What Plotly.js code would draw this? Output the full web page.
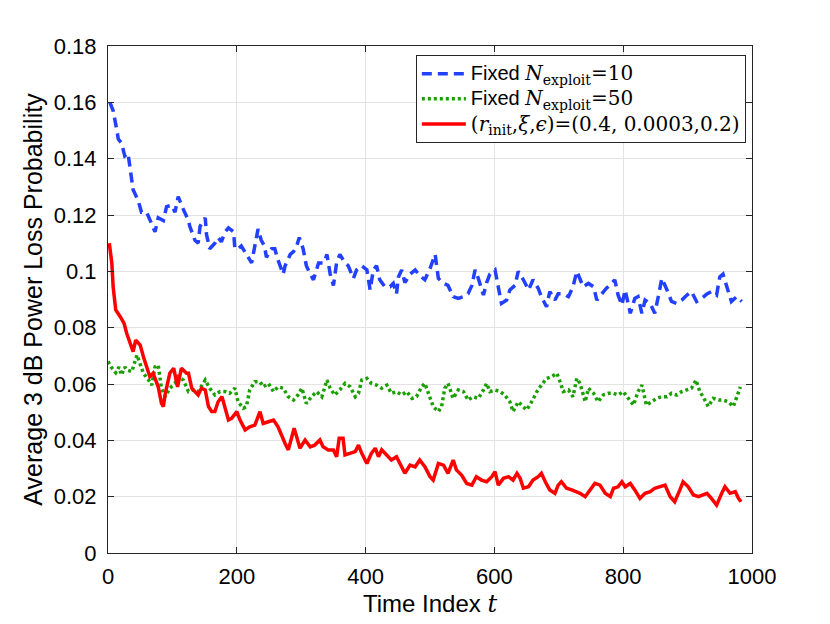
<!DOCTYPE html>
<html>
<head>
<meta charset="utf-8">
<script src="https://cdn.plot.ly/plotly-3.0.1.min.js"></script>
<style>
  body { margin: 0; background: #fff; }
  #plot-container { width: 830px; height: 624px; }
</style>
</head>
<body>
<div id="plot-container"></div>
<script>
// values
const tFixed10 = [3, 8, 13, 16, 21, 26, 31, 35, 39, 47, 52, 60, 65, 73, 78, 86, 91, 99, 104, 109, 117, 125, 127, 135, 140, 143, 151, 153, 158, 166, 171, 176, 182, 187, 195, 197, 202, 207, 215, 223, 228, 233, 238, 243, 246, 254, 259, 264, 272, 275, 283, 288, 293, 297, 303, 308, 314, 319, 327, 335, 340, 345, 350, 355, 360, 368, 373, 381, 386, 394, 402, 407, 412, 417, 422, 430, 438, 443, 448, 451, 456, 461, 469, 477, 484, 492, 500, 508, 513, 521, 528, 536, 544, 552, 559, 565, 570, 575, 583, 588, 593, 601, 606, 611, 619, 624, 632, 637, 645, 653, 660, 668, 673, 681, 686, 694, 699, 707, 715, 722, 728, 733, 738, 746, 754, 759, 767, 774, 782, 787, 792, 798, 803, 811, 818, 823, 829, 834, 842, 849, 855, 860, 868, 875, 883, 891, 899, 906, 914, 922, 930, 937, 945, 950, 955, 961, 968, 976, 984];
const pFixed10 = [0.160, 0.157, 0.151, 0.147, 0.1455, 0.141, 0.142, 0.135, 0.129, 0.125, 0.121, 0.121, 0.118, 0.114, 0.119, 0.118, 0.123, 0.1235, 0.121, 0.1265, 0.122, 0.118, 0.116, 0.111, 0.110, 0.116, 0.119, 0.113, 0.108, 0.110, 0.112, 0.1105, 0.114, 0.1154, 0.114, 0.108, 0.108, 0.109, 0.106, 0.103, 0.109, 0.115, 0.111, 0.109, 0.105, 0.108, 0.108, 0.104, 0.099, 0.102, 0.106, 0.107, 0.109, 0.112, 0.108, 0.102, 0.099, 0.097, 0.103, 0.103, 0.106, 0.099, 0.095, 0.103, 0.106, 0.103, 0.102, 0.0975, 0.1005, 0.102, 0.1005, 0.0934, 0.1005, 0.102, 0.097, 0.0945, 0.0945, 0.0957, 0.092, 0.098, 0.1005, 0.096, 0.099, 0.1005, 0.0985, 0.097, 0.101, 0.106, 0.0975, 0.0957, 0.095, 0.091, 0.0904, 0.091, 0.092, 0.095, 0.1005, 0.0975, 0.0916, 0.096, 0.099, 0.1005, 0.0945, 0.0886, 0.0898, 0.0934, 0.095, 0.100, 0.097, 0.0934, 0.097, 0.094, 0.091, 0.0874, 0.0928, 0.0898, 0.092, 0.092, 0.091, 0.0945, 0.100, 0.0975, 0.0945, 0.0957, 0.0945, 0.0898, 0.092, 0.094, 0.0957, 0.097, 0.0916, 0.088, 0.0934, 0.0851, 0.0904, 0.091, 0.0851, 0.0898, 0.0886, 0.0851, 0.0916, 0.0975, 0.0934, 0.0893, 0.0886, 0.0898, 0.0916, 0.0928, 0.0893, 0.0904, 0.092, 0.0928, 0.0916, 0.098, 0.099, 0.0945, 0.0893, 0.091, 0.0893];

const tFixed50 = [0, 5, 12, 17, 21, 26, 29, 37, 45, 50, 55, 63, 68, 73, 78, 83, 89, 96, 104, 109, 117, 125, 132, 140, 151, 158, 166, 174, 182, 189, 197, 202, 210, 215, 220, 228, 236, 241, 249, 257, 264, 272, 280, 288, 295, 301, 308, 316, 324, 332, 340, 345, 352, 360, 368, 376, 384, 389, 394, 402, 409, 417, 425, 433, 440, 448, 456, 464, 472, 479, 487, 492, 497, 505, 513, 518, 523, 528, 536, 544, 552, 559, 567, 575, 583, 588, 593, 601, 609, 616, 624, 629, 637, 645, 650, 658, 666, 673, 681, 689, 697, 702, 707, 715, 722, 728, 733, 741, 746, 754, 761, 769, 777, 785, 792, 800, 808, 816, 823, 829, 836, 844, 852, 860, 868, 875, 883, 891, 899, 906, 913, 919, 924, 932, 940, 948, 955, 963, 971, 976, 982];
const pFixed50 = [0.068, 0.066, 0.064, 0.066, 0.0632, 0.066, 0.065, 0.0644, 0.0703, 0.0673, 0.0638, 0.0614, 0.0596, 0.0661, 0.0667, 0.0585, 0.0555, 0.0585, 0.0602, 0.0626, 0.0614, 0.0573, 0.0579, 0.0573, 0.0614, 0.0585, 0.0561, 0.0573, 0.0573, 0.0567, 0.0585, 0.0537, 0.0514, 0.052, 0.0579, 0.0608, 0.0608, 0.059, 0.0602, 0.0573, 0.059, 0.0585, 0.0555, 0.0543, 0.0561, 0.0585, 0.0531, 0.0555, 0.0573, 0.0555, 0.0614, 0.0585, 0.0561, 0.0579, 0.0602, 0.059, 0.0555, 0.0567, 0.0614, 0.062, 0.0602, 0.0596, 0.0585, 0.0596, 0.0567, 0.0573, 0.0561, 0.0573, 0.0549, 0.0555, 0.059, 0.0602, 0.0573, 0.052, 0.0502, 0.052, 0.0585, 0.0602, 0.0549, 0.0579, 0.0573, 0.0543, 0.0555, 0.0549, 0.0579, 0.0602, 0.0573, 0.0579, 0.0573, 0.0561, 0.0537, 0.0502, 0.0537, 0.052, 0.0508, 0.0537, 0.0573, 0.0596, 0.062, 0.0626, 0.0638, 0.0608, 0.0573, 0.0579, 0.0555, 0.062, 0.0602, 0.0537, 0.0585, 0.0567, 0.0537, 0.0561, 0.0567, 0.0567, 0.0561, 0.0573, 0.0549, 0.0525, 0.0573, 0.0596, 0.0525, 0.0537, 0.0549, 0.0555, 0.0555, 0.0567, 0.0561, 0.0573, 0.0579, 0.0585, 0.0614, 0.0573, 0.0555, 0.052, 0.0549, 0.0543, 0.0543, 0.0537, 0.052, 0.0555, 0.059];

const tAdaptive = [2, 6, 8, 12, 19, 25, 29, 35, 39, 43, 50, 55, 60, 65, 70, 78, 83, 86, 89, 96, 102, 108, 114, 122, 125, 130, 135, 140, 145, 151, 156, 161, 166, 171, 177, 182, 187, 192, 200, 205, 213, 220, 228, 236, 241, 249, 257, 264, 270, 275, 280, 285, 289, 293, 298, 306, 314, 321, 329, 334, 342, 350, 355, 359, 365, 368, 376, 384, 389, 394, 402, 409, 415, 420, 425, 433, 440, 448, 456, 461, 469, 477, 484, 492, 500, 505, 513, 521, 528, 536, 541, 549, 557, 565, 572, 580, 588, 596, 601, 606, 614, 622, 629, 635, 640, 645, 653, 660, 668, 673, 679, 686, 694, 699, 704, 712, 720, 728, 733, 741, 748, 756, 764, 772, 780, 785, 792, 798, 803, 811, 818, 826, 834, 842, 849, 857, 865, 873, 880, 888, 893, 901, 909, 917, 924, 930, 937, 945, 953, 958, 966, 974, 979, 983];
const pAdaptive = [0.110, 0.1028, 0.0945, 0.0863, 0.0839, 0.0815, 0.078, 0.0738, 0.0715, 0.0756, 0.0738, 0.0697, 0.0661, 0.0626, 0.0638, 0.059, 0.0531, 0.052, 0.0567, 0.0638, 0.0656, 0.059, 0.0656, 0.0638, 0.0638, 0.0585, 0.0573, 0.0561, 0.0585, 0.0579, 0.052, 0.0502, 0.0502, 0.0537, 0.0555, 0.0508, 0.0472, 0.0478, 0.0502, 0.0472, 0.0437, 0.0448, 0.0454, 0.0502, 0.046, 0.0466, 0.0472, 0.0448, 0.0413, 0.0389, 0.0366, 0.0413, 0.0443, 0.0413, 0.0372, 0.0401, 0.0377, 0.0383, 0.0401, 0.0377, 0.0366, 0.0366, 0.0342, 0.0407, 0.0407, 0.0348, 0.0354, 0.036, 0.0383, 0.0354, 0.0318, 0.0354, 0.0372, 0.0342, 0.0366, 0.0348, 0.033, 0.0342, 0.0306, 0.0283, 0.0312, 0.0306, 0.033, 0.0306, 0.0271, 0.0259, 0.0318, 0.0312, 0.0283, 0.033, 0.0295, 0.0277, 0.0247, 0.0241, 0.0271, 0.0259, 0.0253, 0.0271, 0.0289, 0.0241, 0.0265, 0.0271, 0.0259, 0.0283, 0.0265, 0.023, 0.0235, 0.0259, 0.0271, 0.0283, 0.0253, 0.0224, 0.0212, 0.0241, 0.0253, 0.023, 0.0224, 0.0218, 0.0212, 0.020, 0.0224, 0.0247, 0.0241, 0.0212, 0.020, 0.023, 0.0235, 0.0253, 0.0235, 0.0247, 0.0224, 0.0194, 0.0212, 0.0218, 0.023, 0.0235, 0.0241, 0.020, 0.0182, 0.0224, 0.0253, 0.0235, 0.0206, 0.020, 0.0206, 0.0212, 0.0194, 0.017, 0.0212, 0.0235, 0.0212, 0.0218, 0.0194, 0.0182];

const xTicks = [0, 200, 400, 600, 800, 1000];
const yTicks = [0, 0.02, 0.04, 0.06, 0.08, 0.1, 0.12, 0.14, 0.16, 0.18];
const yTickLabels = ['0', '0.02', '0.04', '0.06', '0.08', '0.1', '0.12', '0.14', '0.16', '0.18'];

const MATH = 'font-family:\'DejaVu Serif\',serif';
const BIG = 'font-size:20px';
const seriesNames = [
    '<span style="' + BIG + '">Fixed <span style="' + MATH + '"><i>N</i><sub>exploit</sub>=10</span></span>',
    '<span style="' + BIG + '">Fixed <span style="' + MATH + '"><i>N</i><sub>exploit</sub>=50</span></span>',
    '<span style="' + BIG + ';' + MATH + '">(<i>r</i><sub>init</sub>,<i>ξ</i>,<i>ϵ</i>)=(0.4, 0.0003,0.2)</span>'
];

document.addEventListener("DOMContentLoaded", function() {
    let traces = [
        {
            x: tFixed10, y: pFixed10, name: seriesNames[0],
            type: 'scatter', mode: 'lines',
            line: { color: 'rgb(33,64,255)', width: 3.5, dash: '10px,6px' }
        },
        {
            x: tFixed50, y: pFixed50, name: seriesNames[1],
            type: 'scatter', mode: 'lines',
            line: { color: 'rgb(25,160,0)', width: 3.5, dash: '3px,3px' }
        },
        {
            x: tAdaptive, y: pAdaptive, name: seriesNames[2],
            type: 'scatter', mode: 'lines',
            line: { color: 'rgb(255,0,0)', width: 3.5 }
        }
    ];

    const axisCommon = {
        showline: true,
        mirror: 'ticks',
        linecolor: '#262626',
        linewidth: 1,
        ticks: 'inside',
        ticklen: 6,
        tickcolor: '#262626',
        showgrid: true,
        gridcolor: '#e3e3e3',
        gridwidth: 1,
        zeroline: false,
        tickfont: { family: 'Liberation Sans, Arial, sans-serif', size: 22, color: '#000' }
    };

    const layout = {
        autosize: false,
        width: 830,
        height: 624,
        margin: { l: 108, r: 78, t: 46, b: 71 },
        paper_bgcolor: '#fff',
        plot_bgcolor: '#fff',
        showlegend: true,
        legend: {
            x: 0.478, y: 0.982, xanchor: 'left', yanchor: 'top',
            bgcolor: '#fff', bordercolor: '#262626', borderwidth: 1,
            font: { family: 'Liberation Sans, Arial, sans-serif', size: 17, color: '#000' },
            itemwidth: 44,
            tracegroupgap: 0
        },
        xaxis: Object.assign({}, axisCommon, {
            range: [0, 1000],
            tickvals: xTicks,
            ticktext: xTicks.map(String),
            ticklabelstandoff: 4,
            title: {
                text: 'Time Index <span style="font-family:\'DejaVu Serif\',serif"><i>t</i></span>',
                font: { family: 'Liberation Sans, Arial, sans-serif', size: 24, color: '#000' },
                standoff: 6
            }
        }),
        yaxis: Object.assign({}, axisCommon, {
            range: [0, 0.18],
            tickvals: yTicks,
            ticktext: yTickLabels,
            ticklabelstandoff: 6,
            title: {
                text: 'Average 3 dB Power Loss Probability',
                font: { family: 'Liberation Sans, Arial, sans-serif', size: 25, color: '#000' },
                standoff: 4
            }
        })
    };

    Plotly.newPlot('plot-container', traces, layout, { displayModeBar: false, staticPlot: true });
});
</script>
</body>
</html>
